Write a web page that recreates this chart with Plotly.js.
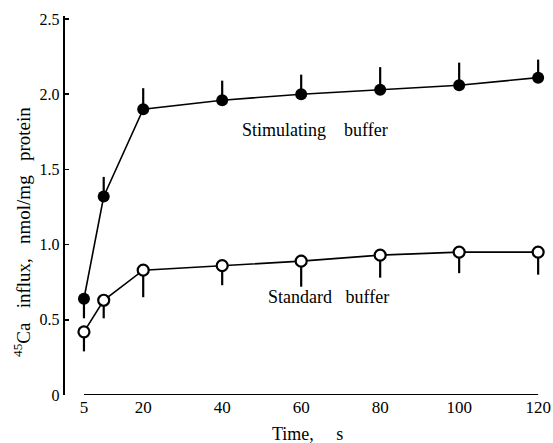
<!DOCTYPE html>
<html>
<head>
<meta charset="utf-8">
<script src="https://cdn.plot.ly/plotly-3.0.1.min.js"></script>
<style>html,body{margin:0;padding:0;background:#fff;}#chart{width:553px;height:443px;}</style>
</head>
<body>
<div id="chart"></div>
<script>
const timeS = [5, 10, 20, 40, 60, 80, 100, 120];
const stimulating = [0.64, 1.32, 1.90, 1.96, 2.00, 2.03, 2.06, 2.11];
const stimErrUp = [0, 0.13, 0.14, 0.13, 0.13, 0.15, 0.15, 0.12];
const stimErrDown = [0.13, 0, 0, 0, 0, 0, 0, 0];
const standard = [0.42, 0.63, 0.83, 0.86, 0.89, 0.93, 0.95, 0.95];
const stdErrUp = [0, 0, 0, 0, 0, 0, 0, 0];
const stdErrDown = [0.13, 0.12, 0.18, 0.13, 0.17, 0.15, 0.14, 0.15];
const xTicks = [5, 20, 40, 60, 80, 100, 120];
const yTicks = [0, 0.5, 1.0, 1.5, 2.0, 2.5];
const yTickText = ['0', '0.5', '1.0', '1.5', '2.0', '2.5'];

const font = {family: 'Liberation Serif, Times New Roman, serif', color: '#000'};

const traces = [
  {
    x: timeS, y: stimulating, type: 'scatter', mode: 'lines+markers',
    line: {color: '#000', width: 1.6},
    marker: {symbol: 'circle', size: 12, color: '#000'},
    error_y: {type: 'data', symmetric: false, array: stimErrUp, arrayminus: stimErrDown,
              color: '#000', thickness: 2.2, width: 0},
    name: 'Stimulating buffer', showlegend: false
  },
  {
    x: timeS, y: standard, type: 'scatter', mode: 'lines+markers',
    line: {color: '#000', width: 1.6},
    marker: {symbol: 'circle', size: 11, color: '#fff', line: {color: '#000', width: 2.2}},
    error_y: {type: 'data', symmetric: false, array: stdErrUp, arrayminus: stdErrDown,
              color: '#000', thickness: 2.2, width: 0},
    name: 'Standard buffer', showlegend: false
  }
];

const layout = {
  width: 553, height: 443,
  margin: {l: 65, r: 3, t: 16, b: 48},
  paper_bgcolor: '#fff', plot_bgcolor: '#fff',
  font: Object.assign({size: 16}, font),
  xaxis: {
    range: [0.2, 123], showgrid: false, zeroline: false, showline: false,
    tickmode: 'array', tickvals: xTicks, ticktext: xTicks.map(String),
    ticks: '', tickfont: Object.assign({size: 17}, font)
  },
  yaxis: {
    range: [0, 2.52], showgrid: false, zeroline: false,
    showline: true, linecolor: '#000', linewidth: 2.2,
    tickmode: 'array', tickvals: yTicks, ticktext: yTickText,
    ticks: 'inside', ticklen: 4, tickwidth: 1.5, tickcolor: '#000',
    tickfont: Object.assign({size: 16}, font)
  },
  shapes: [
    {type: 'line', xref: 'x', yref: 'y', x0: 5, x1: 120, y0: 0, y1: 0,
     line: {color: '#000', width: 2.2}}
  ],
  annotations: [
    {text: 'Stimulating\u00A0\u00A0\u00A0\u00A0buffer', xref: 'x', yref: 'y', x: 44.5, y: 1.76,
     xanchor: 'left', yanchor: 'middle', showarrow: false, font: Object.assign({size: 18}, font)},
    {text: 'Standard\u00A0\u00A0\u00A0buffer', xref: 'x', yref: 'y', x: 51.2, y: 0.65,
     xanchor: 'left', yanchor: 'middle', showarrow: false, font: Object.assign({size: 18}, font)},
    {text: '<sup>45</sup>Ca\u00A0\u00A0\u00A0influx,\u00A0\u00A0\u00A0nmol/mg\u00A0\u00A0\u00A0protein', xref: 'paper', yref: 'paper',
     x: (22 - 65) / 485, y: (395 - 232) / 379, xanchor: 'center', yanchor: 'middle', textangle: -90,
     showarrow: false, font: Object.assign({size: 19}, font)},
    {text: 'Time,\u00A0\u00A0\u00A0\u00A0\u00A0s', xref: 'paper', yref: 'paper',
     x: (307 - 65) / 485, y: (395 - 434) / 379, xanchor: 'center', yanchor: 'middle',
     showarrow: false, font: Object.assign({size: 18}, font)}
  ]
};

Plotly.newPlot('chart', traces, layout, {displayModeBar: false, staticPlot: true});
</script>
</body>
</html>
